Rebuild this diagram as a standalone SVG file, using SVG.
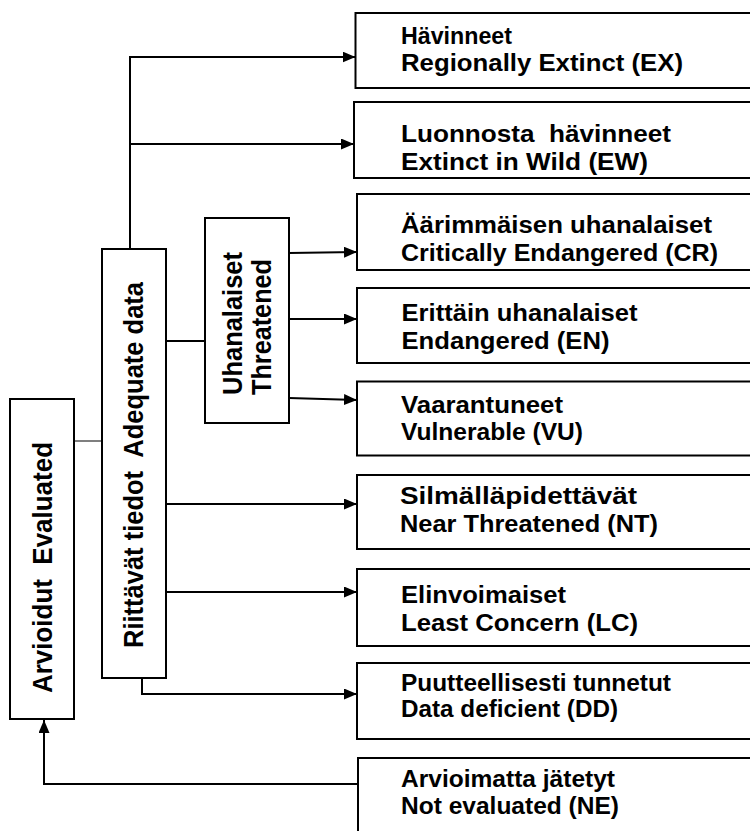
<svg xmlns="http://www.w3.org/2000/svg" width="750" height="831" viewBox="0 0 750 831">
<style>
.box{fill:#fff;stroke:#000;stroke-width:2}
text{white-space:pre}
.t{font-family:"Liberation Sans",Arial,sans-serif;font-weight:bold;font-size:23px;fill:#000}
.r{font-family:"Liberation Sans",Arial,sans-serif;font-weight:bold;font-size:28px;fill:#000}
.c{fill:none;stroke:#000;stroke-width:2}
.g{fill:none;stroke:#555;stroke-width:1.5}
</style>
<defs>
<marker id="ah" markerUnits="userSpaceOnUse" markerWidth="14" markerHeight="12" refX="13" refY="5.5" orient="auto">
<path d="M0,0 L13,5.5 L0,11 z" fill="#000"/>
</marker>
</defs>
<rect width="750" height="831" fill="#fff"/>
<g id="connectors">
<path class="c" d="M130,249 V57 H355.5" marker-end="url(#ah)"/>
<path class="c" d="M130,144 H354" marker-end="url(#ah)"/>
<path class="c" d="M166,341 H205"/>
<path class="c" d="M289,253 L357,252" marker-end="url(#ah)"/>
<path class="c" d="M289,319 H357" marker-end="url(#ah)"/>
<path class="c" d="M289,398 L357,400" marker-end="url(#ah)"/>
<path class="c" d="M166,504 H357" marker-end="url(#ah)"/>
<path class="c" d="M163,592 H357" marker-end="url(#ah)"/>
<path class="c" d="M142,678 V694 H357" marker-end="url(#ah)"/>
<path class="c" d="M358,784 H44 V720" marker-end="url(#ah)"/>
<path class="g" d="M74,441 H102"/>
</g>
<g id="evaluated">
<rect class="box" x="10" y="399" width="64" height="320"/>
<text class="r" transform="translate(52,567.5) rotate(-90)" text-anchor="middle" textLength="251" lengthAdjust="spacingAndGlyphs">Arvioidut  Evaluated</text>
</g>
<g id="adequate">
<rect class="box" x="102" y="249" width="64" height="429"/>
<text class="r" transform="translate(143,465) rotate(-90)" text-anchor="middle" textLength="366" lengthAdjust="spacingAndGlyphs">Riittävät tiedot  Adequate data</text>
</g>
<g id="threatened">
<rect class="box" x="205" y="218" width="84" height="205"/>
<text class="r" transform="translate(242,395) rotate(-90)" textLength="143" lengthAdjust="spacingAndGlyphs">Uhanalaiset</text>
<text class="r" transform="translate(271,395) rotate(-90)" textLength="136" lengthAdjust="spacingAndGlyphs">Threatened</text>
</g>
<g id="ex">
<rect class="box" x="355.5" y="13" width="420" height="75"/>
<text class="t" x="401" y="44" textLength="111" lengthAdjust="spacingAndGlyphs">Hävinneet</text>
<text class="t" x="401" y="71" textLength="282" lengthAdjust="spacingAndGlyphs">Regionally Extinct (EX)</text>
</g>
<g id="ew">
<rect class="box" x="354" y="102" width="420" height="76"/>
<text class="t" x="401" y="142" textLength="270" lengthAdjust="spacingAndGlyphs">Luonnosta  hävinneet</text>
<text class="t" x="401" y="170" textLength="247" lengthAdjust="spacingAndGlyphs">Extinct in Wild (EW)</text>
</g>
<g id="cr">
<rect class="box" x="357" y="194" width="420" height="76"/>
<text class="t" x="401" y="233" textLength="311" lengthAdjust="spacingAndGlyphs">Äärimmäisen uhanalaiset</text>
<text class="t" x="401" y="261" textLength="317" lengthAdjust="spacingAndGlyphs">Critically Endangered (CR)</text>
</g>
<g id="en">
<rect class="box" x="357" y="288" width="420" height="75"/>
<text class="t" x="401.5" y="321" textLength="236" lengthAdjust="spacingAndGlyphs">Erittäin uhanalaiset</text>
<text class="t" x="401.5" y="349" textLength="208" lengthAdjust="spacingAndGlyphs">Endangered (EN)</text>
</g>
<g id="vu">
<rect class="box" x="357" y="381.5" width="420" height="74"/>
<text class="t" x="401" y="413" textLength="162" lengthAdjust="spacingAndGlyphs">Vaarantuneet</text>
<text class="t" x="401" y="440" textLength="182" lengthAdjust="spacingAndGlyphs">Vulnerable (VU)</text>
</g>
<g id="nt">
<rect class="box" x="357" y="475" width="420" height="74"/>
<text class="t" x="400" y="504" textLength="237" lengthAdjust="spacingAndGlyphs">Silmälläpidettävät</text>
<text class="t" x="400" y="532" textLength="258" lengthAdjust="spacingAndGlyphs">Near Threatened (NT)</text>
</g>
<g id="lc">
<rect class="box" x="357" y="569" width="420" height="77"/>
<text class="t" x="401" y="603" textLength="165" lengthAdjust="spacingAndGlyphs">Elinvoimaiset</text>
<text class="t" x="401" y="631" textLength="237" lengthAdjust="spacingAndGlyphs">Least Concern (LC)</text>
</g>
<g id="dd">
<rect class="box" x="357" y="663" width="420" height="76"/>
<text class="t" x="401" y="691" textLength="270" lengthAdjust="spacingAndGlyphs">Puutteellisesti tunnetut</text>
<text class="t" x="401" y="717" textLength="217" lengthAdjust="spacingAndGlyphs">Data deficient (DD)</text>
</g>
<g id="ne">
<rect class="box" x="358" y="758" width="420" height="90"/>
<text class="t" x="401" y="787" textLength="214" lengthAdjust="spacingAndGlyphs">Arvioimatta jätetyt</text>
<text class="t" x="401" y="814" textLength="218" lengthAdjust="spacingAndGlyphs">Not evaluated (NE)</text>
</g>
</svg>
